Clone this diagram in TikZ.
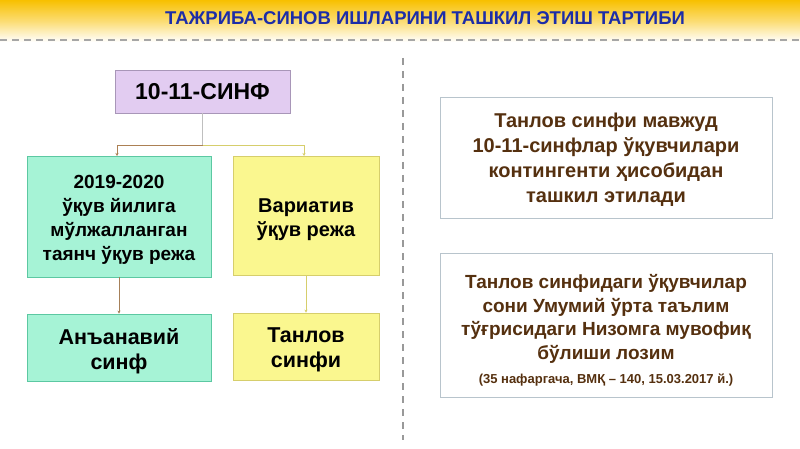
\documentclass[tikz,border=0pt]{standalone}
\usepackage{fontspec}
\setmainfont{Liberation Sans}
\usetikzlibrary{arrows.meta}
\definecolor{titleblue}{HTML}{1C2DA8}
\definecolor{hdr}{HTML}{F8C000}
\definecolor{mint}{HTML}{A6F3D6}
\definecolor{mintb}{HTML}{5CC8A2}
\definecolor{lyel}{HTML}{FAF78F}
\definecolor{lyelb}{HTML}{D6CE6C}
\definecolor{lav}{HTML}{E2CCF1}
\definecolor{lavb}{HTML}{A896B8}
\definecolor{brn}{HTML}{55300F}
\definecolor{rbord}{HTML}{B8C4CC}
\tikzset{
  box/.style={draw, line width=0.8pt, align=center, font=\bfseries, text=black, inner sep=0pt},
  rbox/.style={draw=rbord, fill=white, line width=0.8pt, align=center, font=\bfseries\fontsize{20}{25}\selectfont, text=brn, inner sep=0pt},
  conn/.style={line width=0.6pt, -{Stealth[length=3pt,width=3pt]}},
}
\begin{document}
\begin{tikzpicture}[x=1pt,y=-1pt]
\useasboundingbox (0,0) rectangle (800,449);
\fill[white] (0,0) rectangle (800,449);
\shade[top color=hdr, bottom color=white, middle color=hdr!55!white] (0,0) rectangle (800,42);
\node[font=\bfseries\fontsize{18.5}{22}\selectfont, text=titleblue] (title) at (425,18) {ТАЖРИБА-СИНОВ ИШЛАРИНИ ТАШКИЛ ЭТИШ ТАРТИБИ};
\draw[gray!70, line width=1.2pt, dash pattern=on 7pt off 5pt] (0,40) -- (800,40);
\draw[gray!80, line width=1.2pt, dash pattern=on 7pt off 6pt] (403,58) -- (403,440);

\node[box, draw=lavb, fill=lav, minimum width=175pt, minimum height=43pt, font=\bfseries\fontsize{23}{26}\selectfont] (top) at (202.5,91.5) {10-11-СИНФ};
\node[box, draw=mintb, fill=mint, minimum width=184pt, minimum height=121pt] (plan) at (119,216.5) {};
\node[font=\bfseries\fontsize{19}{24}\selectfont, align=center] (plant) at (119,220) {2019-2020\\ ўқув йилига\\ мўлжалланган\\ таянч ўқув режа};
\node[box, draw=lyelb, fill=lyel, minimum width=146pt, minimum height=119pt] (var) at (306,215.5) {};
\node[font=\bfseries\fontsize{20}{24}\selectfont, align=center] (vart) at (306,220) {Вариатив\\ ўқув режа};
\node[box, draw=mintb, fill=mint, minimum width=184pt, minimum height=67pt] (trad) at (119,347.5) {};
\node[font=\bfseries\fontsize{21.5}{25}\selectfont, align=center] (tradt) at (119,351) {Анъанавий\\ синф};
\node[box, draw=lyelb, fill=lyel, minimum width=146pt, minimum height=67pt] (tanlov) at (306,346.5) {};
\node[font=\bfseries\fontsize{21.5}{25}\selectfont, align=center] (tanlovt) at (306,350) {Танлов\\ синфи};

\coordinate (j) at (202.5,145);
\draw[gray!50, line width=0.6pt] (top.south) -- (j);
\draw[conn, draw=brown!70!gray] (j) -- (117,145) -- (117,156);
\draw[conn, draw=lyelb] (j) -- (304,145) -- (304,156);
\draw[conn, draw=brown!60!gray] (plan.south) -- (trad.north);
\draw[conn, draw=lyelb] (var.south) -- (tanlov.north);

\node[rbox, minimum width=332pt, minimum height=121pt] (r1) at (606,157.5) {};
\node[font=\bfseries\fontsize{20}{25}\selectfont, text=brn, align=center] (r1t) at (606,160) {Танлов синфи мавжуд\\ 10-11-синфлар ўқувчилари\\ контингенти ҳисобидан\\ ташкил этилади};
\node[rbox, minimum width=332pt, minimum height=144pt] (r2) at (606,325) {};
\node[font=\bfseries\fontsize{19}{23.5}\selectfont, text=brn, align=center, anchor=north] (r2t) at (606,271) {Танлов синфидаги ўқувчилар\\ сони Умумий ўрта таълим\\ тўғрисидаги Низомга мувофиқ\\ бўлиши лозим};
\node[font=\bfseries\fontsize{13}{15}\selectfont, text=brn, anchor=north] (r2s) at (606,370) {(35 нафаргача, ВМҚ – 140, 15.03.2017 й.)};
\end{tikzpicture}
\end{document}
